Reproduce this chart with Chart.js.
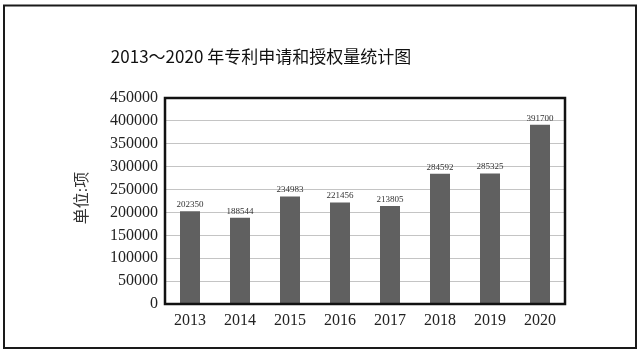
<!DOCTYPE html>
<html>
<head>
<meta charset="utf-8">
<script src="https://cdn.jsdelivr.net/npm/chart.js@4/dist/chart.umd.min.js"></script>
<style>
html,body{margin:0;padding:0;background:#fff;}
#wrap{position:relative;width:641px;height:353px;}
canvas{display:block;}
</style>
</head>
<body>
<div id="wrap"><canvas id="c" width="641" height="353"></canvas></div>
<script>
const categories = ["2013","2014","2015","2016","2017","2018","2019","2020"];
const values = [202350, 188544, 234983, 221456, 213805, 284592, 285325, 391700];
const yTicks = [0,50000,100000,150000,200000,250000,300000,350000,400000,450000];
const titleText = "2013～2020 年专利申请和授权量统计图";
const yTitleText = "单位:项";

const extras = {
  id: 'extras',
  afterDraw(chart) {
    const ctx = chart.ctx;
    const a = chart.chartArea;
    ctx.save();
    // outer frame
    ctx.strokeStyle = '#1a1a1a';
    ctx.lineWidth = 2;
    ctx.strokeRect(4, 5.5, 632, 342.5);
    // plot box
    ctx.lineWidth = 2.5;
    ctx.strokeStyle = '#111';
    ctx.strokeRect(a.left, a.top, a.right - a.left, a.bottom - a.top);
    // title
    ctx.fillStyle = '#111';
    ctx.font = "17px 'Liberation Sans Narrow', 'Noto Sans CJK SC', sans-serif";
    ctx.textAlign = 'center';
    ctx.textBaseline = 'middle';
    ctx.fillText(titleText, 261, 57);
    // y title
    ctx.save();
    ctx.translate(83, 198);
    ctx.rotate(-Math.PI/2);
    ctx.font = "16px 'Liberation Serif', 'Noto Sans CJK SC', serif";
    ctx.fillStyle = '#333';
    ctx.fillText(yTitleText, 0, 0);
    ctx.restore();
    // data labels
    const meta = chart.getDatasetMeta(0);
    ctx.font = "9px 'Liberation Serif', serif";
    ctx.fillStyle = '#333';
    ctx.textBaseline = 'bottom';
    meta.data.forEach((bar, i) => {
      ctx.fillText(String(values[i]), bar.x, bar.y - 2);
    });
    ctx.restore();
  }
};

new Chart(document.getElementById('c'), {
  type: 'bar',
  data: {
    labels: categories,
    datasets: [{
      data: values,
      backgroundColor: '#606060',
      borderWidth: 0,
      barPercentage: 0.4,
      categoryPercentage: 1.0
    }]
  },
  options: {
    responsive: false,
    animation: false,
    events: [],
    layout: { padding: { top: 98, right: 76, left: 0, bottom: 0 } },
    plugins: { legend: { display: false }, tooltip: { enabled: false }, title: { display: false } },
    scales: {
      x: {
        grid: { display: false, drawTicks: false },
        border: { display: false },
        ticks: { font: { family: "'Liberation Serif', serif", size: 16 }, color: '#222', padding: 7, maxRotation: 0 },
        afterFit(s) { s.height = 49; }
      },
      y: {
        min: 0, max: 450000,
        afterBuildTicks(s) { s.ticks = yTicks.map(v => ({ value: v })); },
        grid: { color: '#c4c4c4', lineWidth: 1, drawTicks: false },
        border: { display: false },
        ticks: { font: { family: "'Liberation Serif', serif", size: 16 }, color: '#222', padding: 7, callback: v => String(v) },
        afterFit(s) { s.width = 165; }
      }
    }
  },
  plugins: [extras]
});
</script>
</body>
</html>
